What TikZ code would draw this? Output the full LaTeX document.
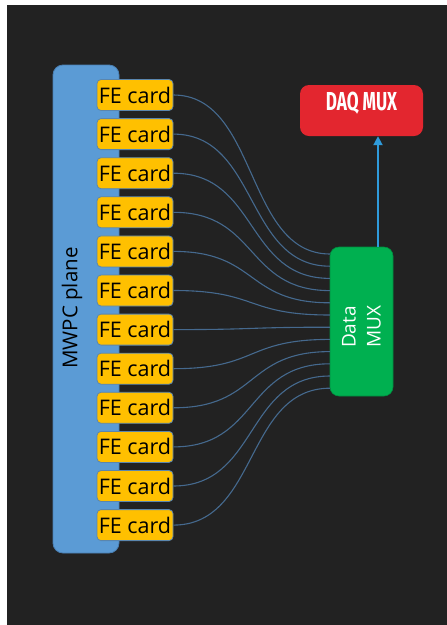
\documentclass[tikz,border=0pt]{standalone}
\usepackage{fontspec}
\setmainfont{Open Sans}
\newfontfamily\daqfont[FakeStretch=0.66]{Fira Sans}
\usetikzlibrary{arrows.meta,calc}
\definecolor{bgdark}{HTML}{222222}
\definecolor{planeblue}{HTML}{5B9BD5}
\definecolor{planeedge}{HTML}{4A80B4}
\definecolor{cardyellow}{HTML}{FFC000}
\definecolor{cardedge}{HTML}{5A86AE}
\definecolor{muxgreen}{HTML}{00B050}
\definecolor{daqred}{HTML}{E3262F}
\definecolor{connblue}{HTML}{45698E}
\definecolor{arrowblue}{HTML}{2F9BDB}
\tikzset{
  plane/.style={draw=planeedge, line width=0.8, fill=planeblue, rounded corners=10, minimum width=66, minimum height=488, inner sep=0},
  card/.style={draw=cardedge, line width=0.8, fill=cardyellow, rounded corners=4, minimum width=76, minimum height=31, inner sep=0, font=\fontsize{21.5}{24}\selectfont, text=black},
  muxbox/.style={fill=muxgreen, draw=muxgreen!80!black, line width=0.6, rounded corners=9, minimum width=63, minimum height=149, inner sep=0},
  daqbox/.style={fill=daqred, rounded corners=9, minimum width=123, minimum height=51, inner sep=0},
  conn/.style={draw=connblue, line width=1.1},
  arr/.style={draw=arrowblue, line width=2, -{Triangle[width=9,length=9]}},
}
\begin{document}
\begin{tikzpicture}[x=1pt,y=-1pt]
\useasboundingbox (0,0) rectangle (447,625);
\fill[white] (0,0) rectangle (447,625);
\fill[bgdark] (7,5) rectangle (447,625);
\node[plane] (plane) at (86,309) {};
\node[rotate=90, font=\fontsize{20.5}{23}\selectfont, text=black] (mwpc) at (72,308) {MWPC plane};
\foreach \i in {0,...,11}{
  \node[card] (fe\i) at (135,{95+39.1*\i}) {FE card};
}
\node[muxbox] (dm) at (361.5,321.5) {};
\node[rotate=90, align=center, text=white, font=\fontsize{19}{25}\selectfont] (dmtxt) at (361.5,327) {Data\\MUX};
\node[daqbox] (daq) at (361.5,110.5) {};
\node[text=white, font=\daqfont\bfseries\fontsize{26}{28}\selectfont] (daqtxt) at (361.5,103) {DAQ MUX};
\foreach \i in {0,...,11}{
  \coordinate (t\i) at (330,{254+12.2*\i});
  \draw[conn] (fe\i.east) .. controls +(85,0) and +(-85,0) .. (t\i);
}
\draw[arr] ([xshift=16.5]dm.north) -- ([xshift=16.5]daq.south);
\end{tikzpicture}
\end{document}
